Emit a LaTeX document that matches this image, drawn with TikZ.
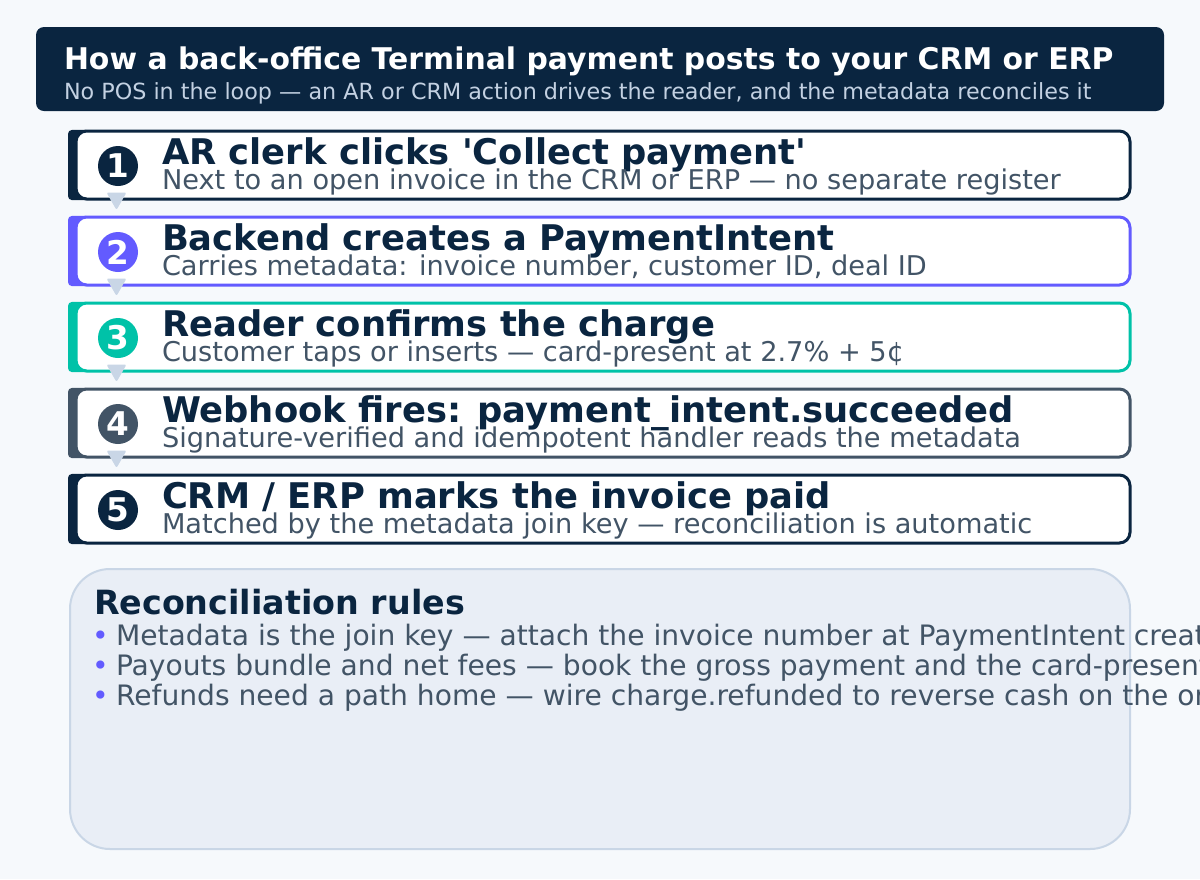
\documentclass[tikz,border=0pt]{standalone}
\usepackage{fontspec}
\setmainfont{DejaVu Sans}[Ligatures=TeXOff]
\usetikzlibrary{calc}
\definecolor{bg}{HTML}{F6F9FC}
\definecolor{navy}{HTML}{0A2540}
\definecolor{slate}{HTML}{425466}
\definecolor{blurple}{HTML}{635BFF}
\definecolor{tealc}{HTML}{00C2A8}
\definecolor{hsubc}{HTML}{C3D1E2}
\definecolor{connc}{HTML}{C9D6E6}
\definecolor{rulefill}{HTML}{E9EEF6}
\definecolor{ruleline}{HTML}{C9D6E6}
\begin{document}
\begin{tikzpicture}[x=0.75pt,y=-0.75pt,
  txt/.style={anchor=base west, inner sep=0pt, outer sep=0pt},
  htitle/.style={txt, text=white, font=\fontsize{22.4pt}{26pt}\selectfont\bfseries},
  hsub/.style={txt, text=hsubc, font=\fontsize{16.7pt}{20pt}\selectfont},
  ctitle/.style={txt, text=navy, font=\fontsize{26.5pt}{30pt}\selectfont\bfseries},
  csub/.style={txt, text=slate, font=\fontsize{20.4pt}{24pt}\selectfont},
  rtitle/.style={txt, text=navy, font=\fontsize{25pt}{30pt}\selectfont\bfseries},
  rtext/.style={txt, text=slate, font=\fontsize{21.1pt}{24pt}\selectfont},
  bul/.style={txt, text=blurple, font=\fontsize{21.1pt}{24pt}\selectfont},
  card/.style={draw=#1, fill=white, line width=2.25pt, rounded corners=8pt,
    minimum width=790.5pt, minimum height=51pt, inner sep=0pt},
  accbar/.style={fill=#1, rounded corners=3pt},
  num/.style={circle, fill=#1, minimum size=30pt, inner sep=0pt, text=white,
    font=\fontsize{24.5pt}{24pt}\selectfont\bfseries},
  conn/.style={fill=connc, rounded corners=1.5pt}
]
\fill[bg] (0,0) rectangle (1200,879);
\useasboundingbox (0,0) rectangle (1200,879);

% header
\node[fill=navy, rounded corners=6pt, minimum width=846pt, minimum height=63pt, inner sep=0pt] (hdr) at (600,69) {};
\node[htitle] (hdrt) at (64,69) {How a back-office Terminal payment posts to your CRM or ERP};
\node[hsub] (hdrs) at (64,99) {No POS in the loop — an AR or CRM action drives the reader, and the metadata reconciles it};

% card 1
\fill[accbar=navy] (68,129.9) rectangle (90,200.1);
\node[card=navy] (s1) at (603,165) {};
\node[num=navy] (n1) at (118,166) {1};
\node[ctitle] (t1) at (162,164) {AR clerk clicks \char"0027 Collect payment\char"0027};
\node[csub] (u1) at (162,189) {Next to an open invoice in the CRM or ERP — no separate register};

% card 2
\fill[accbar=blurple] (68,215.9) rectangle (90,286.1);
\node[card=blurple] (s2) at (603,251) {};
\node[num=blurple] (n2) at (118,252) {2};
\node[ctitle] (t2) at (162,250) {Backend creates a PaymentIntent};
\node[csub] (u2) at (162,275) {Carries metadata: invoice number, customer ID, deal ID};

% card 3
\fill[accbar=tealc] (68,301.9) rectangle (90,372.1);
\node[card=tealc] (s3) at (603,337) {};
\node[num=tealc] (n3) at (118,338) {3};
\node[ctitle] (t3) at (162,336) {Reader confirms the charge};
\node[csub] (u3) at (162,361) {Customer taps or inserts — card-present at 2.7\% + 5¢};

% card 4
\fill[accbar=slate] (68,387.9) rectangle (90,458.1);
\node[card=slate] (s4) at (603,423) {};
\node[num=slate] (n4) at (118,424) {4};
\node[ctitle] (t4) at (162,422) {Webhook fires: payment\_intent.succeeded};
\node[csub] (u4) at (162,447) {Signature-verified and idempotent handler reads the metadata};

% card 5
\fill[accbar=navy] (68,473.9) rectangle (90,544.1);
\node[card=navy] (s5) at (603,509) {};
\node[num=navy] (n5) at (118,510) {5};
\node[ctitle] (t5) at (162,508) {CRM / ERP marks the invoice paid};
\node[csub] (u5) at (162,533) {Matched by the metadata join key — reconciliation is automatic};

% connectors
\foreach \a/\b in {s1/s2,s2/s3,s3/s4,s4/s5}{
  \fill[conn] ($(\a.south west)+(32,-8)$) -- ($(\a.south west)+(52,-8)$) -- ($(\b.north west)+(42,-5.5)$) -- cycle;
}

% rules box
\node[draw=ruleline, fill=rulefill, line width=1.5pt, rounded corners=30pt,
  minimum width=795pt, minimum height=210pt, inner sep=0pt] (rules) at (600,709) {};
\node[rtitle] (rt) at (94,614) {Reconciliation rules};
\node[bul] (b1) at (92,645) {•};
\node[rtext] (r1) at (116,645) {Metadata is the join key — attach the invoice number at PaymentIntent creation};
\node[bul] (b2) at (92,675) {•};
\node[rtext] (r2) at (116,675) {Payouts bundle and net fees — book the gross payment and the card-present fee};
\node[bul] (b3) at (92,705) {•};
\node[rtext] (r3) at (116,705) {Refunds need a path home — wire charge.refunded to reverse cash on the original invoice};
\end{tikzpicture}
\end{document}
